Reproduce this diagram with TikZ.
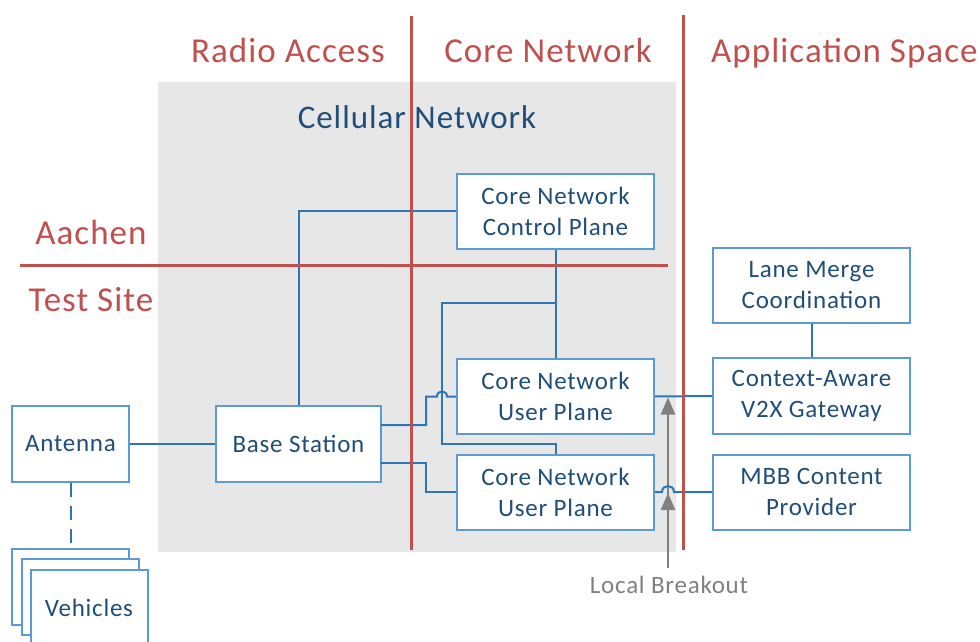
\documentclass[tikz,border=0pt]{standalone}
\usepackage{fontspec}
\setmainfont{Carlito}[LetterSpace=3]
\usetikzlibrary{arrows.meta,calc}
\definecolor{zonered}{RGB}{192,80,77}
\definecolor{boxblue}{RGB}{91,155,213}
\definecolor{linkblue}{RGB}{46,117,182}
\definecolor{txtblue}{RGB}{31,78,121}
\definecolor{cellgray}{RGB}{231,231,231}
\definecolor{lbgray}{RGB}{128,128,128}
\tikzset{
  box/.style={draw=boxblue, line width=2pt, fill=white, text=txtblue, align=center,
    inner sep=0pt, minimum width=197pt, minimum height=75pt,
    font=\fontsize{25}{31}\selectfont},
  smallbox/.style={box, minimum width=117pt, minimum height=76pt},
  link/.style={draw=linkblue, line width=2pt},
  zone/.style={draw=zonered, line width=3pt},
  zonelabel/.style={text=zonered, inner sep=0pt, font=\fontsize{35}{40}\selectfont},
  breakout/.style={draw=lbgray, line width=2.5pt, -{Triangle[length=17pt,width=14pt]}}
}
\begin{document}
\begin{tikzpicture}[x=1pt,y=-1pt]
\useasboundingbox (0,0) rectangle (980,642);

% cellular network area
\fill[cellgray] (158,82) rectangle (676,552);
\node[text=txtblue, inner sep=0pt, font=\fontsize{33}{38}\selectfont] (cell) at (417,117) {Cellular Network};

% nodes
\node[box] (cp)  at (555.5,211)   {Core Network\\Control Plane};
\node[box] (up1) at (555.5,396.5) {Core Network\\User Plane};
\node[box] (up2) at (555.5,492)   {Core Network\\User Plane};
\node[box, minimum width=165pt, minimum height=76pt] (bs) at (298.5,444) {Base Station};
\node[smallbox] (ant) at (70.5,444) {Antenna};
\node[box] (lm)  at (811.5,285.5) {Lane Merge\\Coordination};
\node[box, minimum height=76pt] (gw) at (811.5,396) {Context-Aware\\V2X Gateway};
\node[box] (mbb) at (811.5,492)   {MBB Content\\Provider};

% stacked vehicle boxes
\node[smallbox] (veh1) at (70.5,587) {};
\node[smallbox] (veh2) at (80,597) {};
\node[smallbox] (veh3) at (89,608) {Vehicles};

% connector waypoints
\coordinate (j1) at (555.5,303);
\coordinate (k1) at (442,444);
\coordinate (bsu) at (381,425);
\coordinate (bsl) at (381,463);
\coordinate (lb) at (668,568);

% links
\draw[link] (cp.west) -| (bs.north);
\draw[link] (cp.south) -- (up1.north);
\draw[link] (j1) -| (k1) -| (up2.north);
\draw[link] (bsu) -- (426,425) -- (426,396.5) -- (437,396.5)
  .. controls (437,389.8) and (447,389.8) .. (447,396.5) -- (up1.west);
\draw[link] (bsl) -- (426,463) -- (426,492) -- (up2.west);
\draw[link] (up1.east) -- (gw.west);
\draw[link] (lm.south) -- (gw.north);
\draw[link] (ant.east) -- (bs.west);
\draw[link, dash pattern=on 14pt off 9pt] (ant.south) -- (veh1.north);

% local breakout
\draw[breakout] (lb) -- (668,397.5);
\draw[breakout] (lb) -- (668,493);
\draw[link] (up2.east) -- (662,492)
  .. controls (662,484) and (674,484) .. (674,492) -- (mbb.west);
\node[text=lbgray, inner sep=0pt, font=\fontsize{25}{29}\selectfont] (lbt) at (669,585) {Local Breakout};

% zone borders
\draw[zone] (411,16) -- (411,550);
\draw[zone] (683,15) -- (683,550);
\draw[zone] (20,265) -- (668,265);

% zone labels
\node[zonelabel] (ra) at (288,50) {Radio Access};
\node[zonelabel] (cn) at (548,50) {Core Network};
\coordinate (asx) at (711,0);
\node[zonelabel, anchor=base west] (as) at (asx |- ra.base) {Application Space};
\node[zonelabel] (ac) at (91,232) {Aachen};
\node[zonelabel] (ts) at (91,300) {Test Site};
\end{tikzpicture}
\end{document}
